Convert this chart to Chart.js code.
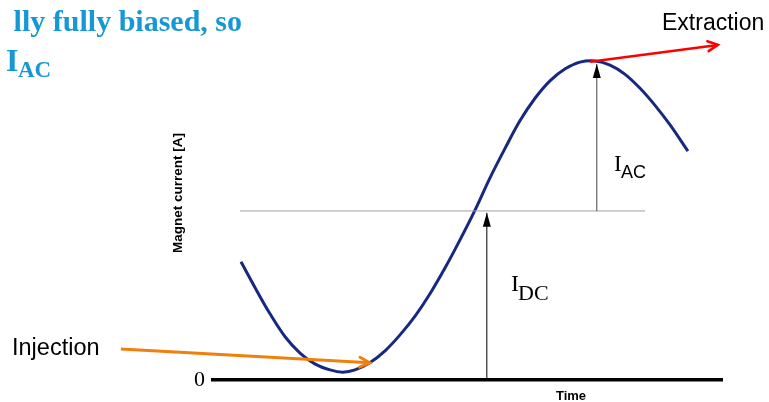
<!DOCTYPE html>
<html>
<head>
<meta charset="utf-8">
<script src="https://cdn.jsdelivr.net/npm/chart.js@4.4.1/dist/chart.umd.min.js"></script>
<style>
  body { margin: 0; background: #fff; }
  #wrap { width: 769px; height: 402px; }
</style>
</head>
<body>
<div id="wrap"><canvas id="magnetChart"></canvas></div>
<script>
// time axis runs 0..10, current axis 0..10 (arbitrary units)
var curve_time = [0.55, 0.83, 1.12, 1.42, 1.71, 2.00, 2.30, 2.55, 2.79, 3.08, 3.38, 3.67, 3.97, 4.26, 4.56, 4.85,
                  5.15, 5.44, 5.74, 6.03, 6.33, 6.62, 6.92, 7.21, 7.51, 7.80, 8.09, 8.39, 8.68, 8.98, 9.33]
var curve_current = [3.16, 2.46, 1.77, 1.15, 0.72, 0.43, 0.27, 0.21, 0.27, 0.46, 0.78, 1.20, 1.71, 2.30, 3.00, 3.74,
                     4.55, 5.40, 6.20, 6.93, 7.54, 8.00, 8.32, 8.50, 8.53, 8.42, 8.18, 7.80, 7.35, 6.82, 6.12]

var dc_level = 4.52
var dc_line_time = [0.53, 8.49]

var idc_arrow = {time: [5.38, 5.38], current: [0, 4.47]}
var iac_arrow = {time: [7.54, 7.54], current: [4.52, 8.45]}
var injection_arrow = {time: [-1.81, 3.08], current: [0.83, 0.46]}
var extraction_arrow = {time: [7.41, 9.92], current: [8.51, 8.96]}

var y_ticks = [0]

function points(xs, ys) {
    var out = []
    for (var i = 0; i < xs.length; i++) out.push({x: xs[i], y: ys[i]})
    return out
}

var arrowHeads = {
    id: 'arrowHeads',
    afterDatasetsDraw: function(chart) {
        var ctx = chart.ctx
        chart.data.datasets.forEach(function(ds, i) {
            if (!ds.head) return
            var pts = chart.getDatasetMeta(i).data
            var a = pts[pts.length - 2], b = pts[pts.length - 1]
            var ang = Math.atan2(b.y - a.y, b.x - a.x)
            ctx.save()
            ctx.translate(b.x, b.y)
            ctx.rotate(ang)
            if (ds.head === 'filled') {
                ctx.fillStyle = '#000'
                ctx.beginPath()
                ctx.moveTo(0, 0)
                ctx.lineTo(-14, -4)
                ctx.lineTo(-14, 4)
                ctx.closePath()
                ctx.fill()
            } else {
                ctx.strokeStyle = ds.borderColor
                ctx.lineWidth = ds.borderWidth
                ctx.lineCap = 'round'
                ctx.beginPath()
                ctx.moveTo(-10, -5)
                ctx.lineTo(0, 0)
                ctx.lineTo(-10, 5)
                ctx.stroke()
            }
            ctx.restore()
        })
    }
}

var labels = {
    id: 'labels',
    afterDraw: function(chart) {
        var ctx = chart.ctx
        ctx.save()
        ctx.textBaseline = 'alphabetic'

        // cut-off slide text at top left
        ctx.fillStyle = '#1598d4'
        ctx.textAlign = 'right'
        ctx.font = 'bold 30px "Liberation Serif"'
        ctx.fillText('lly fully biased, so', 242, 31)
        ctx.textAlign = 'left'
        ctx.font = 'bold 32px "Liberation Serif"'
        ctx.fillText('I', 6, 71)
        ctx.font = 'bold 23px "Liberation Serif"'
        ctx.fillText('AC', 18, 77)

        ctx.fillStyle = '#000'
        ctx.font = '23.5px "Liberation Sans"'
        ctx.fillText('Injection', 12, 355)
        ctx.font = '23px "Liberation Sans"'
        ctx.fillText('Extraction', 662, 30)

        ctx.font = '24px "Liberation Serif"'
        ctx.fillText('I', 511, 291)
        ctx.font = '22px "Liberation Serif"'
        ctx.fillText('DC', 518, 300)

        ctx.font = '23px "Liberation Serif"'
        ctx.fillText('I', 614, 171)
        ctx.font = '18px "Liberation Sans"'
        ctx.fillText('AC', 621, 178)

        ctx.textAlign = 'center'
        ctx.font = 'bold 13px "Liberation Sans"'
        ctx.fillText('Time', 571, 400)
        ctx.restore()
    }
}

new Chart(document.getElementById('magnetChart').getContext('2d'), {
    type: 'line',
    data: {
        datasets: [
            {
                label: 'Injection',
                data: points(injection_arrow.time, injection_arrow.current),
                borderColor: '#f07f0c',
                borderWidth: 3,
                head: 'open'
            },
            {
                label: 'Extraction',
                data: points(extraction_arrow.time, extraction_arrow.current),
                borderColor: '#ff0000',
                borderWidth: 2.5,
                head: 'open'
            },
            {
                label: 'I_DC',
                data: points(idc_arrow.time, idc_arrow.current),
                borderColor: '#000',
                borderWidth: 1,
                head: 'filled'
            },
            {
                label: 'I_AC',
                data: points(iac_arrow.time, iac_arrow.current),
                borderColor: '#444',
                borderWidth: 1,
                head: 'filled'
            },
            {
                label: 'DC level',
                data: points(dc_line_time, [dc_level, dc_level]),
                borderColor: '#a0a0a0',
                borderWidth: 1,
                order: 9
            },
            {
                label: 'Magnet current',
                data: points(curve_time, curve_current),
                borderColor: '#16287f',
                borderWidth: 3,
                tension: 0.35,
                order: 10
            }
        ]
    },
    options: {
        responsive: true,
        maintainAspectRatio: false,
        devicePixelRatio: 1,
        animation: false,
        clip: false,
        elements: { point: { radius: 0 } },
        layout: { padding: { left: 165, right: 47, top: 6, bottom: 0 } },
        plugins: { legend: { display: false }, tooltip: { enabled: false } },
        scales: {
            x: {
                type: 'linear',
                min: 0,
                max: 10,
                grid: { display: false, drawTicks: false },
                ticks: { display: false },
                border: { display: true, color: '#000', width: 3.5 },
                afterFit: function(s) {
                    s.height = 22
                    s.paddingLeft = 0
                    s.paddingRight = 0
                }
            },
            y: {
                type: 'linear',
                min: 0,
                max: 10,
                grid: { display: false, drawTicks: false },
                border: { display: false },
                afterBuildTicks: function(s) {
                    s.ticks = y_ticks.map(function(v) { return {value: v} })
                },
                ticks: {
                    padding: 8,
                    color: '#000',
                    font: { family: '"Liberation Serif"', size: 22 }
                },
                title: {
                    display: true,
                    text: 'Magnet current [A]',
                    color: '#000',
                    font: { family: '"Liberation Sans"', size: 13.5, weight: 'bold' },
                    padding: { top: 5, bottom: 0 }
                },
                afterFit: function(s) {
                    s.width = 48
                    s.paddingTop = 0
                    s.paddingBottom = 0
                }
            }
        }
    },
    plugins: [arrowHeads, labels]
})
</script>
</body>
</html>
